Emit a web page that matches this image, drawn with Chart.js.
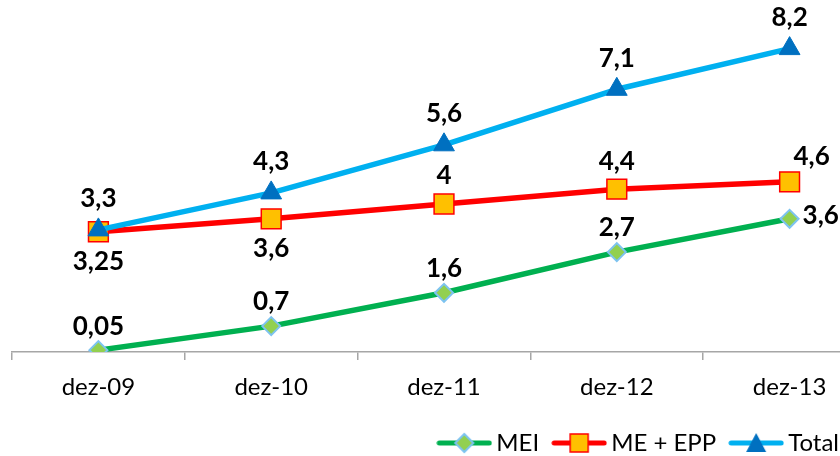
<!DOCTYPE html>
<html>
<head>
<meta charset="utf-8">
<script src="https://cdn.jsdelivr.net/npm/chart.js@4.4.1/dist/chart.umd.min.js"></script>
<style>
html,body{margin:0;padding:0;background:#fff;overflow:hidden}
#c{display:block;width:840px;height:456px}
</style>
</head>
<body>
<canvas id="c" width="840" height="456"></canvas>
<script>
// ---- data ----
const categories = ['dez-09', 'dez-10', 'dez-11', 'dez-12', 'dez-13'];
const seriesNames = ['MEI', 'ME + EPP', 'Total'];
const meiValues = [0.05, 0.7, 1.6, 2.7, 3.6];
const meEppValues = [3.25, 3.6, 4, 4.4, 4.6];
const totalValues = [3.3, 4.3, 5.6, 7.1, 8.2];
const yMin = 0;
const yMax = 9;

// ---- label placement (style, not data) ----
const meiLabelPos = ['above', 'above', 'above', 'above', 'right'];
const meEppLabelPos = ['below', 'below', 'above', 'above', 'aboveRight'];
const totalLabelPos = ['above', 'above', 'above', 'above', 'above'];

const FONT = 'Lato';

function toPoints(values) {
  return categories.map((c, i) => ({ x: i, y: values[i] }));
}

function legendImg(color, drawMarker) {
  const c = document.createElement('canvas');
  c.width = 56; c.height = 24;
  const g = c.getContext('2d');
  g.strokeStyle = color; g.lineWidth = 5; g.lineCap = 'round';
  g.beginPath(); g.moveTo(3, 12); g.lineTo(53, 12); g.stroke();
  drawMarker(g, 28, 12);
  return c;
}
const imgMEI = legendImg('#00B050', (g, x, y) => {
  g.beginPath(); g.moveTo(x - 9, y); g.lineTo(x, y - 9); g.lineTo(x + 9, y); g.lineTo(x, y + 9); g.closePath();
  g.fillStyle = '#92D050'; g.fill(); g.strokeStyle = '#7DC3F0'; g.lineWidth = 2; g.stroke();
});
const imgEPP = legendImg('#FF0000', (g, x, y) => {
  g.fillStyle = '#FFC000'; g.fillRect(x - 9, y - 9, 18, 18);
  g.strokeStyle = '#FF0000'; g.lineWidth = 1.5; g.strokeRect(x - 9, y - 9, 18, 18);
});
const imgTotal = legendImg('#00B0F0', (g, x, y) => {
  g.beginPath(); g.moveTo(x, y - 10); g.lineTo(x + 10, y + 9); g.lineTo(x - 10, y + 9); g.closePath();
  g.fillStyle = '#0070C0'; g.fill();
});
const legendImgs = [imgMEI, imgEPP, imgTotal];

const valueLabels = {
  id: 'valueLabels',
  afterDatasetsDraw(chart) {
    const ctx = chart.ctx;
    ctx.save();
    ctx.font = 'bold 26px ' + FONT;
    ctx.fillStyle = '#000';
    ctx.textBaseline = 'middle';
    chart.data.datasets.forEach((ds, di) => {
      const meta = chart.getDatasetMeta(di);
      meta.data.forEach((pt, i) => {
        const pos = ds.labelPos[i];
        const txt = String(ds.data[i].y).replace('.', ',');
        let x = pt.x, y = pt.y;
        ctx.textAlign = 'center';
        if (pos === 'above') y -= ds.labelOffset;
        else if (pos === 'below') y += ds.labelOffset + 2;
        else if (pos === 'right') { ctx.textAlign = 'left'; x += 13; y -= 3; }
        else if (pos === 'aboveRight') { x += 22; y -= 25; }
        ctx.fillText(txt, x, y);
      });
    });
    ctx.restore();
  }
};

const legendShift = {
  id: 'legendShift',
  afterLayout(chart) {
    const l = chart.legend;
    if (!l) return;
    const dx = 19, dy = 9;
    l.left += dx; l.right += dx; l.top += dy; l.bottom += dy;
  }
};

function build() {
  new Chart(document.getElementById('c'), {
    type: 'line',
    data: {
      datasets: [
        {
          label: seriesNames[0], data: toPoints(meiValues), order: 2,
          borderColor: '#00B050', borderWidth: 5.5, borderJoinStyle: 'round',
          pointStyle: 'rectRot', pointRadius: 9, pointHoverRadius: 9,
          pointBackgroundColor: '#92D050', pointBorderColor: '#7DC3F0', pointBorderWidth: 2,
          labelPos: meiLabelPos, labelOffset: 24
        },
        {
          label: seriesNames[1], data: toPoints(meEppValues), order: 1,
          borderColor: '#FF0000', borderWidth: 5.5, borderJoinStyle: 'round',
          pointStyle: 'rect', pointRadius: 14, pointHoverRadius: 14,
          pointBackgroundColor: '#FFC000', pointBorderColor: '#FF0000', pointBorderWidth: 1.5,
          labelPos: meEppLabelPos, labelOffset: 28
        },
        {
          label: seriesNames[2], data: toPoints(totalValues), order: 0,
          borderColor: '#00B0F0', borderWidth: 5.5, borderJoinStyle: 'round',
          pointStyle: 'triangle', pointRadius: 12, pointHoverRadius: 12,
          pointBackgroundColor: '#0070C0', pointBorderColor: '#0070C0', pointBorderWidth: 1,
          labelPos: totalLabelPos, labelOffset: 31
        }
      ]
    },
    options: {
      responsive: false,
      maintainAspectRatio: false,
      devicePixelRatio: 1,
      animation: false,
      events: [],
      layout: { autoPadding: false, padding: { left: 12, right: 0, top: 19, bottom: 0 } },
      scales: {
        x: {
          type: 'linear',
          min: -0.5,
          max: -0.5 + 828 / 172.8,
          afterBuildTicks(scale) {
            scale.ticks = categories.map((c, i) => ({ value: i }));
          },
          afterFit(scale) {
            scale.paddingLeft = 0;
            scale.paddingRight = 0;
            scale.height = 50;
          },
          ticks: {
            autoSkip: false, maxRotation: 0, padding: 13,
            color: '#000', font: { family: FONT, size: 24 },
            callback: (v) => categories[v]
          },
          grid: {
            offset: true, drawOnChartArea: false, drawTicks: true,
            tickLength: 8, color: '#A6A6A6', lineWidth: 1.5
          },
          border: { display: true, color: '#A6A6A6', width: 1.5 }
        },
        y: {
          display: false, min: yMin, max: yMax
        }
      },
      plugins: {
        legend: {
          position: 'bottom',
          align: 'end',
          labels: {
            usePointStyle: true,
            pointStyleWidth: 40,
            padding: 20,
            color: '#000',
            font: { family: FONT, size: 24 },
            sort: (a, b) => a.datasetIndex - b.datasetIndex,
            generateLabels(chart) {
              const items = Chart.defaults.plugins.legend.labels.generateLabels(chart);
              items.forEach(it => { it.pointStyle = legendImgs[it.datasetIndex]; });
              return items;
            }
          }
        },
        tooltip: { enabled: false }
      }
    },
    plugins: [valueLabels, legendShift]
  });
}

Promise.all([
  document.fonts.load('24px ' + FONT),
  document.fonts.load('bold 26px ' + FONT)
]).then(build, build);
</script>
</body>
</html>
